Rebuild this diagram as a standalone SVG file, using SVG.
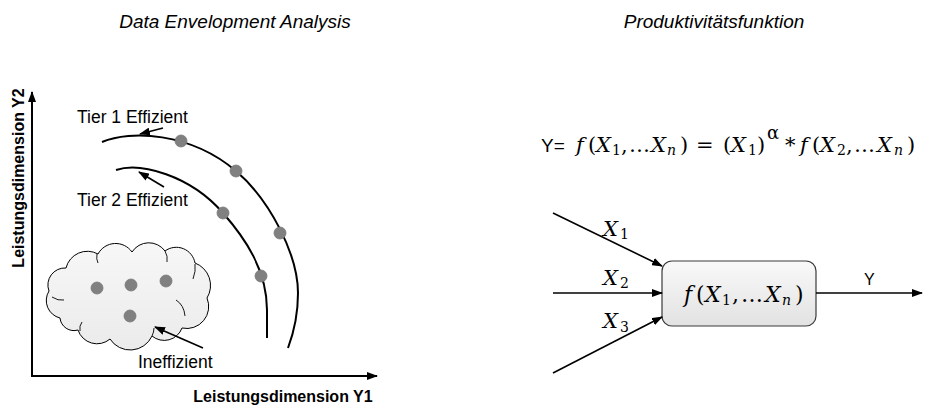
<svg xmlns="http://www.w3.org/2000/svg" width="925" height="406" viewBox="0 0 925 406">
<style>
.title{font-family:"Liberation Sans",Arial,sans-serif;font-size:19px;font-style:italic;fill:#000}
.lbl{font-family:"Liberation Sans",Arial,sans-serif;font-size:17.5px;fill:#000}
.axl{font-family:"Liberation Sans",Arial,sans-serif;font-size:16px;font-weight:bold;fill:#000}
.m{font-family:"DejaVu Serif","Liberation Serif",serif;font-size:21px;fill:#000}
.i{font-style:italic}
.s{font-size:14px}
.ln{stroke:#000;stroke-width:1.6;fill:none}
.ax{stroke:#000;stroke-width:2;fill:none}
.arc{stroke:#000;stroke-width:2;fill:none}
.dot{fill:#808080;stroke:#777;stroke-width:0.8}
</style>
<defs>
<marker id="ah" markerWidth="11" markerHeight="8" refX="10" refY="4" orient="auto" markerUnits="userSpaceOnUse"><path d="M0,0 L11,4 L0,8 Z" fill="#000"/></marker>
<linearGradient id="gbox" x1="0" y1="0" x2="0" y2="1"><stop offset="0" stop-color="#f9f9f9"/><stop offset="1" stop-color="#e2e2e2"/></linearGradient>
<linearGradient id="gcloud" x1="0" y1="0" x2="0" y2="1"><stop offset="0" stop-color="#f7f7f7"/><stop offset="1" stop-color="#ebebeb"/></linearGradient>
</defs>

<g id="titles">
<text class="title" x="235" y="28" text-anchor="middle">Data Envelopment Analysis</text>
<text class="title" x="714" y="28" text-anchor="middle">Produktivitätsfunktion</text>
</g>

<g id="axes">
<line class="ax" x1="32" y1="376" x2="32" y2="92" marker-end="url(#ah)"/>
<line class="ax" x1="31" y1="376" x2="377" y2="376" marker-end="url(#ah)"/>
<text class="axl" transform="translate(24,178) rotate(-90)" text-anchor="middle">Leistungsdimension Y2</text>
<text class="axl" x="283" y="402" text-anchor="middle">Leistungsdimension Y1</text>
</g>

<g id="tier1">
<path class="arc" d="M102,142 C130,130 190,132 236,171 C270,200 298,255 298,293 C298,315 294,332 288,348"/>
<circle class="dot" cx="181" cy="141" r="6"/>
<circle class="dot" cx="236" cy="171" r="6"/>
<circle class="dot" cx="280" cy="233" r="6"/>
<text class="lbl" x="77" y="123">Tier 1 Effizient</text>
</g>

<g id="tier2">
<path class="arc" d="M116,170 C140,162 190,175 223,213 C245,238 267,270 267,310 L267,338"/>
<circle class="dot" cx="223" cy="213" r="6"/>
<circle class="dot" cx="261" cy="276" r="6"/>
<text class="lbl" x="77" y="206">Tier 2 Effizient</text>
</g>

<g id="ineffizient">
<path d="M60,318 A18,18 0 0 1 49,291 A17,17 0 0 1 66,268 A22,22 0 0 1 98,254 A20,20 0 0 1 132,252 A20,20 0 0 1 165,251 A19,19 0 0 1 195,263 A24,24 0 0 1 207,298 A22,22 0 0 1 182,328 A19,19 0 0 1 152,336 A24,24 0 0 1 110,339 A20,20 0 0 1 78,330 A14,14 0 0 1 60,318 Z" fill="url(#gcloud)" stroke="#000" stroke-width="1"/>
<path d="M52,297 Q58,301 64,300 M97,254 Q96,259 98,263 M165,251 Q168,256 167,262 M193,279 Q196,271 195,264 M176,300 Q184,305 185,316 M152,336 Q154,332 154,328 M80,331 Q79,326 82,322" fill="none" stroke="#000" stroke-width="0.9"/>
<circle class="dot" cx="97" cy="288" r="6"/>
<circle class="dot" cx="131" cy="285" r="6"/>
<circle class="dot" cx="166" cy="281" r="6"/>
<circle class="dot" cx="130" cy="316" r="6"/>
<text class="lbl" x="138" y="368">Ineffizient</text>
</g>

<g id="formula">
<text class="m" y="152"><tspan x="541" style="font-family:'Liberation Sans',Arial,sans-serif;font-size:19px">Y=</tspan><tspan x="576" class="i">f</tspan><tspan x="588">(</tspan><tspan x="596" class="i">X</tspan><tspan x="612" class="s" dy="3">1</tspan><tspan x="621" dy="-3">,</tspan><tspan x="629">…</tspan><tspan x="651" class="i">X</tspan><tspan x="667" class="i s" dy="3">n</tspan><tspan x="680" dy="-3">)</tspan><tspan x="696">=</tspan><tspan x="723">(</tspan><tspan x="731" class="i">X</tspan><tspan x="748" class="s" dy="3">1</tspan><tspan x="757" dy="-3">)</tspan><tspan x="767" dy="-13" style="font-size:18px">α</tspan><tspan x="785" dy="13">*</tspan><tspan x="800" class="i">f</tspan><tspan x="812">(</tspan><tspan x="820" class="i">X</tspan><tspan x="837" class="s" dy="3">2</tspan><tspan x="846" dy="-3">,</tspan><tspan x="854">…</tspan><tspan x="877" class="i">X</tspan><tspan x="894" class="i s" dy="3">n</tspan><tspan x="907" dy="-3">)</tspan></text>
</g>

<g id="function-box">
<rect x="662" y="261" width="154" height="65" rx="10" fill="url(#gbox)" stroke="#3a3a3a" stroke-width="1.2"/>
<text class="m" y="302" style="font-size:22px"><tspan x="684" class="i">f</tspan><tspan x="696">(</tspan><tspan x="705" class="i">X</tspan><tspan x="722" class="s" dy="3">1</tspan><tspan x="732" dy="-3">,</tspan><tspan x="741">…</tspan><tspan x="765" class="i">X</tspan><tspan x="782" class="i s" dy="3">n</tspan><tspan x="795" dy="-3">)</tspan></text>
</g>

<g id="input-labels">
<text class="m" y="236"><tspan x="603" class="i">X</tspan><tspan x="620" class="s" dy="3">1</tspan></text>
<text class="m" y="285"><tspan x="603" class="i">X</tspan><tspan x="620" class="s" dy="3">2</tspan></text>
<text class="m" y="328"><tspan x="603" class="i">X</tspan><tspan x="620" class="s" dy="4">3</tspan></text>
<text x="864" y="285" style="font-family:'Liberation Sans',Arial,sans-serif;font-size:16px">Y</text>
</g>

<g id="connectors">
<line class="ln" x1="163" y1="128" x2="140" y2="134" marker-end="url(#ah)"/>
<line class="ln" x1="164" y1="187" x2="139" y2="172" marker-end="url(#ah)"/>
<line class="ln" x1="203" y1="348" x2="155" y2="327" marker-end="url(#ah)"/>
<line class="ln" x1="553" y1="213" x2="662" y2="266" marker-end="url(#ah)"/>
<line class="ln" x1="553" y1="293" x2="662" y2="293" marker-end="url(#ah)"/>
<line class="ln" x1="553" y1="373" x2="662" y2="317" marker-end="url(#ah)"/>
<line class="ln" x1="816" y1="293" x2="922" y2="293" marker-end="url(#ah)"/>
</g>
</svg>
